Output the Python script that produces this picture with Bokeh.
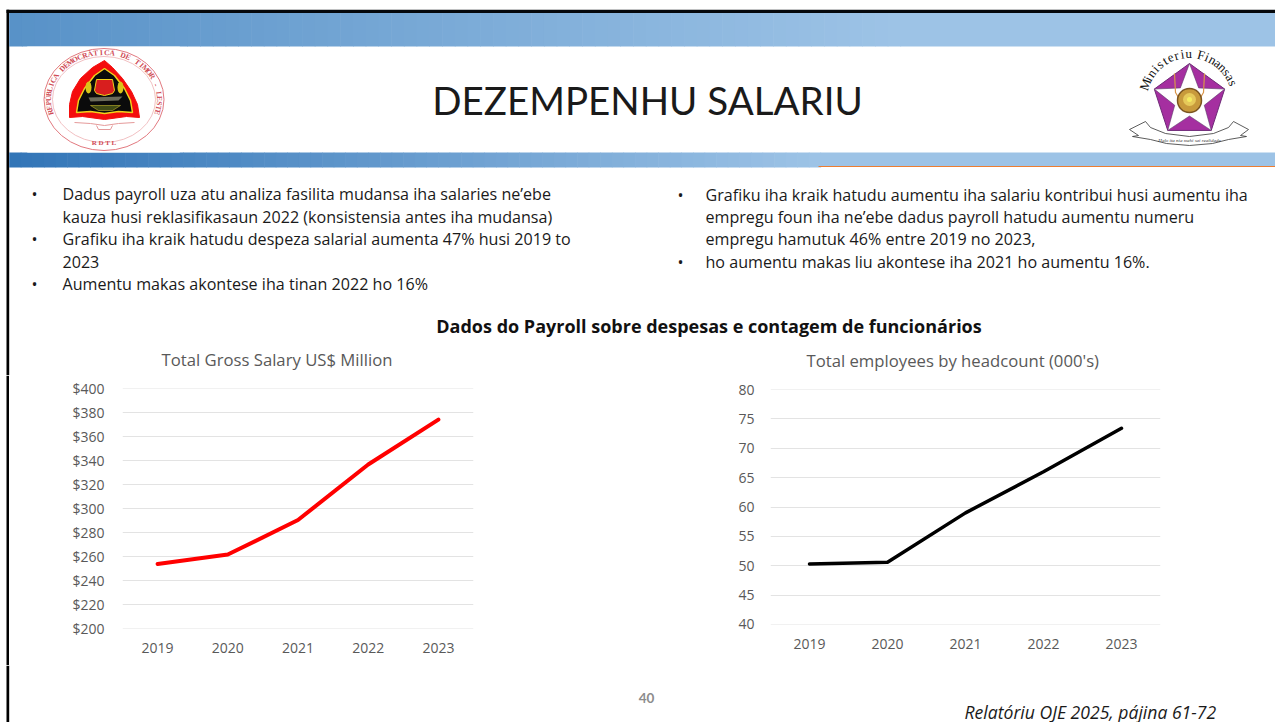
import math
from bokeh.plotting import figure
from bokeh.layouts import column, row
from bokeh.models import FactorRange, Range1d, FixedTicker
from bokeh.core.properties import value
from bokeh.embed import file_html
from bokeh.resources import INLINE

# ---- chart data ----
years = ["2019", "2020", "2021", "2022", "2023"]
gross_salary = [253.8, 261.6, 290.4, 336.7, 374.1]
headcount = [50.3, 50.6, 59.0, 66.0, 73.4]
salary_ticks = list(range(200, 401, 20))
headcount_ticks = list(range(40, 81, 5))

# ---- texts ----
slide_title = "DEZEMPENHU SALARIU"
section_title = "Dados do Payroll sobre despesas e contagem de funcionários"
salary_title = "Total Gross Salary US$ Million"
headcount_title = "Total employees by headcount (000's)"
left_bullets = [
    ("•", "Dadus payroll uza atu analiza fasilita mudansa iha salaries ne’ebe", 193),
    ("", "kauza husi reklasifikasaun 2022 (konsistensia antes iha mudansa)", 216),
    ("•", "Grafiku iha kraik hatudu despeza salarial aumenta 47% husi 2019 to", 238),
    ("", "2023", 261),
    ("•", "Aumentu makas akontese iha tinan 2022 ho 16%", 283),
]
right_bullets = [
    ("•", "Grafiku iha kraik hatudu aumentu iha salariu kontribui husi aumentu iha", 194),
    ("", "empregu foun iha ne’ebe dadus payroll hatudu aumentu numeru", 216),
    ("", "empregu hamutuk 46% entre 2019 no 2023,", 238),
    ("•", "ho aumentu makas liu akontese iha 2021 ho aumentu 16%.", 261),
]

BODY = value("Open Sans")
W = 1275
HDR_BOTTOM = 375
ROW_BOTTOM = 665
PAGE_BOTTOM = 722


def canvas(top, bottom, width=W):
    """A figure whose data coordinates are the picture's pixels."""
    p = figure(width=width, height=bottom - top, x_range=Range1d(0, width), y_range=Range1d(bottom, top),
               output_backend="svg", toolbar_location=None, min_border=0)
    p.axis.visible = False
    p.grid.visible = False
    p.outline_line_color = None
    return p


def lerp(a, b, t):
    return tuple(round(a[i] + (b[i] - a[i]) * t) for i in range(3))


def gradient(p, x0, x1, y0, y1, c0, c1, steps=70):
    xs = [x0 + (x1 - x0) * i / steps for i in range(steps + 1)]
    cols = ["#%02x%02x%02x" % lerp(c0, c1, i / (steps - 1)) for i in range(steps)]
    p.quad(left=xs[:-1], right=[x + 0.6 for x in xs[1:]], top=[y0] * steps, bottom=[y1] * steps,
           fill_color=cols, line_color=None)


def arc_text(p, s, cx, cy, rx, ry, a0, a1, color, size, font, style="bold"):
    n = len(s)
    xs, ys, ang, ch = [], [], [], []
    for i, c in enumerate(s):
        a = math.radians(a0 + (a1 - a0) * i / (n - 1))
        xs.append(cx + rx * math.cos(a))
        ys.append(cy - ry * math.sin(a))
        ang.append(a - math.pi / 2)
        ch.append(c)
    p.text(xs, ys, text=ch, angle=ang, text_color=color, text_font_size=size, text_font=value(font),
           text_font_style=style, text_align="center", text_baseline="middle")


def rdtl_emblem(p):
    cx, cy = 103.5, 99
    red = "#e2797f"
    p.quad(left=[27], right=[179], top=[46], bottom=[152], fill_color="white", line_color=None)
    p.ellipse([cx], [cy], width=120, height=102, fill_color="white", line_color=red, line_width=1)
    p.ellipse([cx], [cy], width=103, height=86, fill_color=None, line_color="#eeb0b3", line_width=0.8)
    arc_text(p, "REPÚBLICA DEMOCRÁTICA DE TIMOR - LESTE", cx, cy, 55.5, 47, 196, -16, "#cf4a55", "7.5px", "Liberation Serif")
    p.text([cx], [142], text=["R D T L"], text_color="#cf4a55", text_font_size="7px",
           text_font=value("Liberation Serif"), text_font_style="bold", text_align="center", text_baseline="middle")
    shield_x = [104, 112, 122, 131, 137, 139, 126, 104, 82, 69, 69, 72, 80, 92]
    shield_y = [60, 67, 78, 91, 104, 117, 116, 119, 116, 117, 104, 91, 78, 67]
    p.patch(shield_x, shield_y, fill_color="#f40d0d", line_color="#f40d0d")
    inner_x = [104, 114, 124, 130, 132, 118, 104, 90, 76, 78, 84, 94]
    inner_y = [68, 75, 88, 100, 112, 111, 113, 111, 112, 100, 88, 75]
    p.patch(inner_x, inner_y, fill_color="#0b0b0b", line_color="#f2d21a", line_width=1.5)
    p.patch([96, 112, 114, 112, 104, 96, 94], [79, 79, 90, 93, 95, 93, 90], fill_color="#d81e1e", line_color="#f2d21a", line_width=1)
    p.ellipse([88, 120], [87, 87], width=6, height=12, fill_color="#d9c51a", line_color=None)
    p.patch([88, 122, 118, 90], [97, 96, 100, 101], fill_color="#6b6b5a", line_color=None)
    p.patch([90, 120, 112, 98], [105, 105, 110, 110], fill_color="#3f4a16", line_color="#c2b52a", line_width=0.6)
    p.line([74, 90, 104, 118, 134], [122, 123, 125, 123, 122], line_color="#e59a9a", line_width=1)
    p.line([96, 98, 110, 112], [125, 129, 129, 125], line_color="#e59a9a", line_width=1)
    p.line([27, 179], [46, 46], line_color="#cfe0ee", line_width=1)
    p.line([27, 179], [152, 152], line_color="#cfe0ee", line_width=1)


def finance_emblem(p):
    cx, cy = 1189, 100
    pr = 37
    pent = [math.radians(90 + 72 * i) for i in range(5)]
    px = [cx + pr * math.cos(a) for a in pent]
    py = [cy - pr * math.sin(a) for a in pent]
    p.patch(px, py, fill_color="#a52fa0", line_color="#6f2a78", line_width=1)
    sx, sy = [], []
    for i in range(10):
        a = math.radians(90 + 36 * i)
        r = pr if i % 2 == 0 else pr * 0.42
        sx.append(cx + r * math.cos(a))
        sy.append(cy - r * math.sin(a))
    p.patch(sx, sy, fill_color="white", line_color="#5d3a6a", line_width=0.6)
    p.line([1174, 1175, 1178], [73, 92, 97], line_color="#d9964a", line_width=1.2)
    p.line([1204, 1203, 1200], [73, 92, 97], line_color="#d9964a", line_width=1.2)
    p.circle([cx], [cy], radius=12, fill_color="#c89a3c", line_color="#7a5420", line_width=1.5)
    p.circle([cx], [cy - 1], radius=6.5, fill_color="#e6c95a", line_color=None)
    p.circle([cx], [cy - 1], radius=2.5, fill_color="#f4ec60", line_color=None)
    arc_text(p, "Ministeriu Finansas", cx, 100, 47, 47, 160, 22, "#111111", "13px", "Liberation Serif", "normal")
    rib_x = [1129, 1145, 1150, 1165, 1189, 1213, 1228, 1233, 1248, 1240, 1246, 1228, 1212, 1189, 1166, 1150, 1132, 1138]
    rib_y = [129, 121, 127, 133, 136, 133, 127, 121, 129, 135, 136, 139, 143, 145, 143, 139, 136, 135]
    p.patch(rib_x, rib_y, fill_color="white", line_color="#333333", line_width=0.8)
    p.text([1189], [139.5], text=["Halo ita nia mehi sai realidade"], text_color="#333333",
           text_font_size="5px", text_font=value("Liberation Serif"), text_font_style="italic",
           text_align="center", text_baseline="middle")


def header():
    p = canvas(0, HDR_BOTTOM)
    p.quad(left=[6], right=[1275], top=[9.3], bottom=[12.6], fill_color="#05080c", line_color=None)
    p.quad(left=[6], right=[8.7], top=[9.3], bottom=[HDR_BOTTOM], fill_color="#000000", line_color=None)
    gradient(p, 8.7, 900, 12.6, 46, (88, 146, 200), (157, 195, 230))
    p.quad(left=[900], right=[1275], top=[12.6], bottom=[46], fill_color="#9dc3e6", line_color=None)
    gradient(p, 8.7, 820, 152, 167, (50, 117, 183), (157, 195, 230))
    p.quad(left=[820], right=[1275], top=[152], bottom=[166], fill_color="#9dc3e6", line_color=None)
    p.quad(left=[818], right=[1275], top=[165.5], bottom=[166.6], fill_color="#ed7d31", line_color=None)
    rdtl_emblem(p)
    finance_emblem(p)
    p.text([647], [99], text=[slide_title], text_font=value("Lato"), text_font_size="38.5px", text_color="#1a1a1a",
           text_align="center", text_baseline="middle")
    for (bx, tx, lines) in ((31, 62, left_bullets), (677, 705, right_bullets)):
        for b, t, y in lines:
            if b:
                p.text([bx], [y], text=[b], text_font=BODY, text_font_size="16.1px", text_color="#1a1a1a",
                       text_align="left", text_baseline="middle")
            p.text([tx], [y], text=[t], text_font=BODY, text_font_size="16.1px", text_color="#1a1a1a",
                   text_align="left", text_baseline="middle")
    p.text([708.5], [325], text=[section_title], text_font=BODY, text_font_style="bold",
           text_font_size="18px", text_color="#111111", text_align="center", text_baseline="middle")
    p.text([161, 806], [359, 360], text=[salary_title, headcount_title], text_font=BODY, text_font_size="16.7px",
           text_color="#595959", text_align="left", text_baseline="middle")
    return p


def chart(values, ticks, labels, color, lw, ymin, ymax, width, left, right, top, bottom, ystand):
    eps = (ymax - ymin) * 0.0002
    p = figure(width=width, height=ROW_BOTTOM - HDR_BOTTOM, x_range=FactorRange(factors=years, range_padding=0),
               y_range=Range1d(ymin - eps, ymax + eps), output_backend="svg", toolbar_location=None,
               min_border_left=left, min_border_right=right, min_border_top=top, min_border_bottom=bottom)
    p.line(years, values, line_color=color, line_width=lw, line_cap="round", line_join="round")
    p.outline_line_color = None
    p.xgrid.visible = False
    p.ygrid.grid_line_color = "#e3e3e3"
    p.ygrid.grid_line_width = 1
    p.yaxis.ticker = FixedTicker(ticks=ticks)
    p.yaxis.major_label_overrides = {t: l for t, l in zip(ticks, labels)}
    for ax in (p.xaxis[0], p.yaxis[0]):
        ax.axis_line_color = None
        ax.major_tick_line_color = None
        ax.minor_tick_line_color = None
        ax.major_label_text_font = "Open Sans"
        ax.major_label_text_font_size = "14px"
        ax.major_label_text_color = "#595959"
    p.xaxis.major_label_standoff = 8
    p.yaxis.major_label_standoff = ystand
    return p


def footer():
    p = canvas(ROW_BOTTOM, PAGE_BOTTOM)
    p.quad(left=[6], right=[8.7], top=[ROW_BOTTOM], bottom=[PAGE_BOTTOM], fill_color="#000000", line_color=None)
    p.text([646], [697], text=["40"], text_font=value("Lato"), text_font_style="bold", text_font_size="13.5px",
           text_color="#8c8c8c", text_align="center", text_baseline="middle")
    p.text([964], [711], text=["Relatóriu OJE 2025, pájina 61-72"], text_font=BODY, text_font_style="italic",
           text_font_size="17.6px", text_color="#1a1a1a", text_align="left", text_baseline="middle")
    return p


strip = canvas(HDR_BOTTOM, ROW_BOTTOM, width=9)
strip.quad(left=[6], right=[8.7], top=[HDR_BOTTOM], bottom=[ROW_BOTTOM], fill_color="#000000", line_color=None)

left_chart = chart(gross_salary, salary_ticks, ["$%d" % t for t in salary_ticks],
                   "#ff0000", 4, 200, 400, 631, 113, 167, 13, 37, 12)
right_chart = chart(headcount, headcount_ticks, [str(t) for t in headcount_ticks],
                    "#000000", 3.5, 40, 80, 635, 130, 115, 14, 41, 10)

page = column(header(), row(strip, column(left_chart), column(right_chart)), footer(), spacing=0)
open("out.html", "w").write(file_html(page, INLINE))
